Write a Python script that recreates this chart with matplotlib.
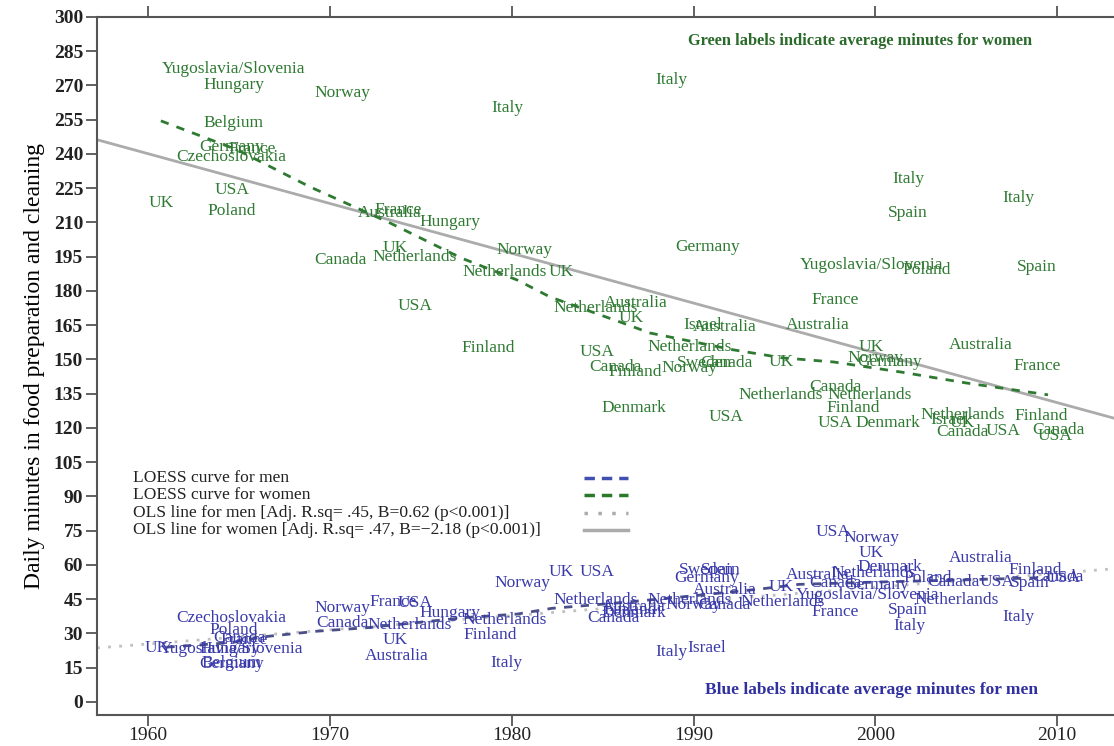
import matplotlib
matplotlib.use('Agg')
import matplotlib.pyplot as plt
import numpy as np

plt.rcParams['font.family'] = ['Liberation Serif', 'DejaVu Serif']

# women: country label, survey year, minutes per day
women_country = ['Yugoslavia/Slovenia', 'Hungary', 'Norway', 'Italy', 'Italy', 'Belgium',
	'Germany', 'France', 'Czechoslovakia', 'USA', 'UK', 'Poland', 'France', 'Australia',
	'Hungary', 'Canada', 'UK', 'Netherlands', 'Norway', 'Netherlands', 'UK', 'USA',
	'Finland', 'Netherlands', 'Australia', 'UK', 'Israel', 'Australia', 'Netherlands',
	'USA', 'Canada', 'Finland', 'Norway', 'Sweden', 'Canada', 'UK', 'Denmark', 'USA',
	'Germany', 'Netherlands', 'Yugoslavia/Slovenia', 'Poland', 'Spain', 'France',
	'Australia', 'UK', 'Norway', 'Germany', 'Australia', 'France', 'Canada',
	'Netherlands', 'Finland', 'USA', 'Denmark', 'Netherlands', 'Israel', 'UK', 'Canada',
	'USA', 'Finland', 'Canada', 'USA', 'Italy', 'Spain', 'Italy']
women_year = [1964.7, 1964.7, 1970.7, 1979.75, 1988.8, 1964.7,
	1964.6, 1965.7, 1964.6, 1964.6, 1960.7, 1964.6, 1973.75, 1973.3,
	1976.6, 1970.6, 1973.6, 1974.65, 1980.7, 1979.6, 1982.7, 1974.7,
	1978.7, 1984.6, 1986.8, 1986.6, 1990.5, 1991.7, 1989.8,
	1984.7, 1985.7, 1986.8, 1989.8, 1990.6, 1991.8, 1994.8, 1986.7, 1991.8,
	1990.8, 1994.8, 1999.8, 2002.85, 2008.9, 1997.8,
	1996.85, 1999.8, 2000.0, 2000.8, 2005.8, 2008.9, 1997.8,
	1999.7, 1998.8, 1997.8, 2000.7, 2004.8, 2004.1, 2004.8, 2004.8,
	2007.0, 2009.1, 2010.05, 2009.9, 2001.8, 2001.8, 2007.85]
women_min = [277.2, 270.2, 266.7, 260.2, 272.4, 253.6,
	243.1, 242.2, 238.7, 224.2, 218.5, 215.0, 215.5, 214.2,
	210.2, 193.6, 198.8, 194.9, 198.0, 188.3, 188.3, 173.4,
	155.0, 172.6, 174.7, 168.2, 165.1, 164.2, 155.5,
	153.3, 146.7, 144.5, 146.3, 148.5, 148.5, 148.9, 128.8, 124.8,
	199.3, 134.5, 191.4, 189.2, 190.5, 176.1,
	165.1, 155.5, 150.7, 148.9, 156.4, 147.2, 138.0,
	134.5, 128.8, 122.2, 122.2, 125.7, 123.5, 122.2, 118.3,
	118.7, 125.3, 119.1, 116.5, 229.1, 214.2, 220.7]

# men
men_country = ['Czechoslovakia', 'Poland', 'Canada', 'France', 'UK', 'Yugoslavia/Slovenia',
	'Hungary', 'Belgium', 'Germany', 'Norway', 'France', 'USA', 'Canada', 'Netherlands',
	'UK', 'Australia', 'Hungary', 'Netherlands', 'Finland', 'Italy', 'Norway', 'UK', 'USA',
	'Netherlands', 'Australia', 'Denmark', 'Finland', 'Canada', 'Netherlands', 'Norway',
	'Canada', 'Sweden', 'Spain', 'Germany', 'Australia', 'UK', 'Netherlands', 'Italy',
	'Israel', 'Australia', 'France', 'USA', 'Norway', 'UK', 'Denmark', 'Australia',
	'Netherlands', 'Poland', 'Canada', 'Germany', 'Canada', 'USA', 'Spain', 'Finland',
	'Canada', 'USA', 'Yugoslavia/Slovenia', 'Netherlands', 'Spain', 'Italy', 'Italy']
men_year = [1964.6, 1964.7, 1965.0, 1965.3, 1960.5, 1964.6,
	1964.5, 1964.6, 1964.6, 1970.7, 1973.5, 1974.7, 1970.7, 1974.4,
	1973.6, 1973.7, 1976.6, 1979.6, 1978.8, 1979.7, 1980.6, 1982.7, 1984.7,
	1984.6, 1986.7, 1986.7, 1986.5, 1985.6, 1989.8, 1990.0,
	1991.7, 1990.7, 1991.5, 1990.7, 1991.7, 1994.8, 1994.9, 1988.8,
	1990.7, 1996.85, 1997.8, 1997.7, 1999.8, 1999.8, 2000.8, 2005.8,
	1999.9, 2002.9, 1997.8, 2000.1, 2004.3, 2006.7, 2008.5, 2008.8,
	2010.0, 2010.3, 1999.6, 2004.5, 2001.8, 2001.9, 2007.85]
men_min = [36.8, 31.5, 28.0, 27.2, 23.7, 23.2,
	23.2, 17.1, 16.6, 41.2, 43.8, 43.4, 34.6, 33.7,
	27.2, 20.1, 39.0, 35.9, 29.3, 17.1, 52.1, 56.9, 56.9,
	44.7, 41.6, 39.0, 40.3, 36.8, 44.7, 42.5,
	42.5, 57.8, 57.8, 54.3, 49.1, 50.4, 43.8, 21.9,
	23.7, 55.6, 39.4, 74.5, 71.8, 65.3, 59.1, 63.1,
	56.5, 54.3, 52.1, 51.2, 52.6, 52.6, 52.1, 57.8,
	54.7, 54.3, 46.9, 44.7, 40.3, 33.3, 37.2]

# LOESS curves
loess_w_year = [1960.7, 1964.9, 1968.9, 1973.3, 1977.2, 1980.3, 1982.1, 1986.1,
	1987.6, 1992.2, 1994.9, 1997.7, 2001.4, 2005.0, 2009.5]
loess_w_min = [254.5, 241.8, 225.6, 209.8, 194.5, 184.8, 177.4, 166.0,
	161.6, 154.2, 150.7, 148.9, 144.5, 139.7, 134.5]
loess_m_year = [1961.0, 1964.6, 1966.3, 1969.3, 1972.0, 1977.5, 1980.3, 1982.2,
	1986.0, 1990.0, 1993.7, 1995.8, 2000.0, 2005.0, 2009.5]
loess_m_min = [24.0, 26.0, 28.5, 31.0, 32.5, 37.0, 38.5, 41.0,
	43.5, 46.5, 49.5, 51.5, 52.5, 53.5, 54.5]

# OLS lines: value at 1985 and slope per year
ols_w = (185.6, -2.18)
ols_m = (40.9, 0.62)

green = '#2f7a32'
blue = '#3a3aaa'
grey = '#ababab'

fig = plt.figure(figsize=(11.14, 7.46), dpi=100)
ax = fig.add_axes([0.0871, 0.0416, 0.9129, 0.9357])
ax.set_xlim(1957.19, 2013.13)
ax.set_ylim(-5.69, 300)

xs = np.array(ax.get_xlim())
ax.plot(xs, ols_w[0] + ols_w[1] * (xs - 1985), color=grey, lw=2, zorder=1)
ax.plot(xs, ols_m[0] + ols_m[1] * (xs - 1985), color='#c0c0c0', lw=2, ls=(0, (1, 3)), zorder=1)
ax.plot(loess_w_year, loess_w_min, color=green, lw=2, ls=(0, (3, 3)), zorder=1)
ax.plot(loess_m_year, loess_m_min, color='#4a4f8a', lw=2, ls=(0, (3, 3)), zorder=1)

for name, x, y in zip(women_country, women_year, women_min):
	ax.text(x, y, name, ha='center', va='center', color=green, fontsize=12.5, zorder=2)
for name, x, y in zip(men_country, men_year, men_min):
	ax.text(x, y, name, ha='center', va='center', color=blue, fontsize=12.5, zorder=2)

ax.text(0.750, 0.966, 'Green labels indicate average minutes for women', transform=ax.transAxes,
	ha='center', va='center', color='#2a6a2a', fontsize=11.8, fontweight='bold')
ax.text(0.762, 0.036, 'Blue labels indicate average minutes for men', transform=ax.transAxes,
	ha='center', va='center', color='#3030a0', fontsize=12.5, fontweight='bold')

# hand-made legend block, text on the left and line samples on the right
legend_rows = [
	('LOESS curve for men', '#4050b0', (0, (3, 2))),
	('LOESS curve for women', '#2a7a2a', (0, (3, 2))),
	('OLS line for men [Adj. R.sq= .45, B=0.62 (p<0.001)]', grey, (0, (1, 3))),
	('OLS line for women [Adj. R.sq= .47, B=\u22122.18 (p<0.001)]', grey, '-'),
]
row_y = [0.3395, 0.315, 0.289, 0.265]
for (label, col, style), y in zip(legend_rows, row_y):
	ax.text(0.035, y, label, transform=ax.transAxes, ha='left', va='center',
		fontsize=12.6, color='#222222')
	ax.plot([0.479, 0.522], [y, y], transform=ax.transAxes, color=col, lw=2.5, ls=style)

ax.set_xticks(range(1960, 2011, 10))
ax.set_yticks(range(0, 301, 15))
ax.tick_params(labelsize=14, direction='out', length=8, width=1.3, color='#555555',
	top=True, labelcolor='#222222')
ax.tick_params(axis='x', pad=1)
ax.tick_params(axis='y', pad=2)
for lbl in ax.get_yticklabels():
	lbl.set_fontweight('bold')
for side in ['left', 'bottom', 'top']:
	ax.spines[side].set_color('#555555')
	ax.spines[side].set_linewidth(1.5)
ax.spines['right'].set_visible(False)
ax.set_ylabel('Daily minutes in food preparation and cleaning', fontsize=17, labelpad=6)

fig.savefig('out.png', dpi=100)
